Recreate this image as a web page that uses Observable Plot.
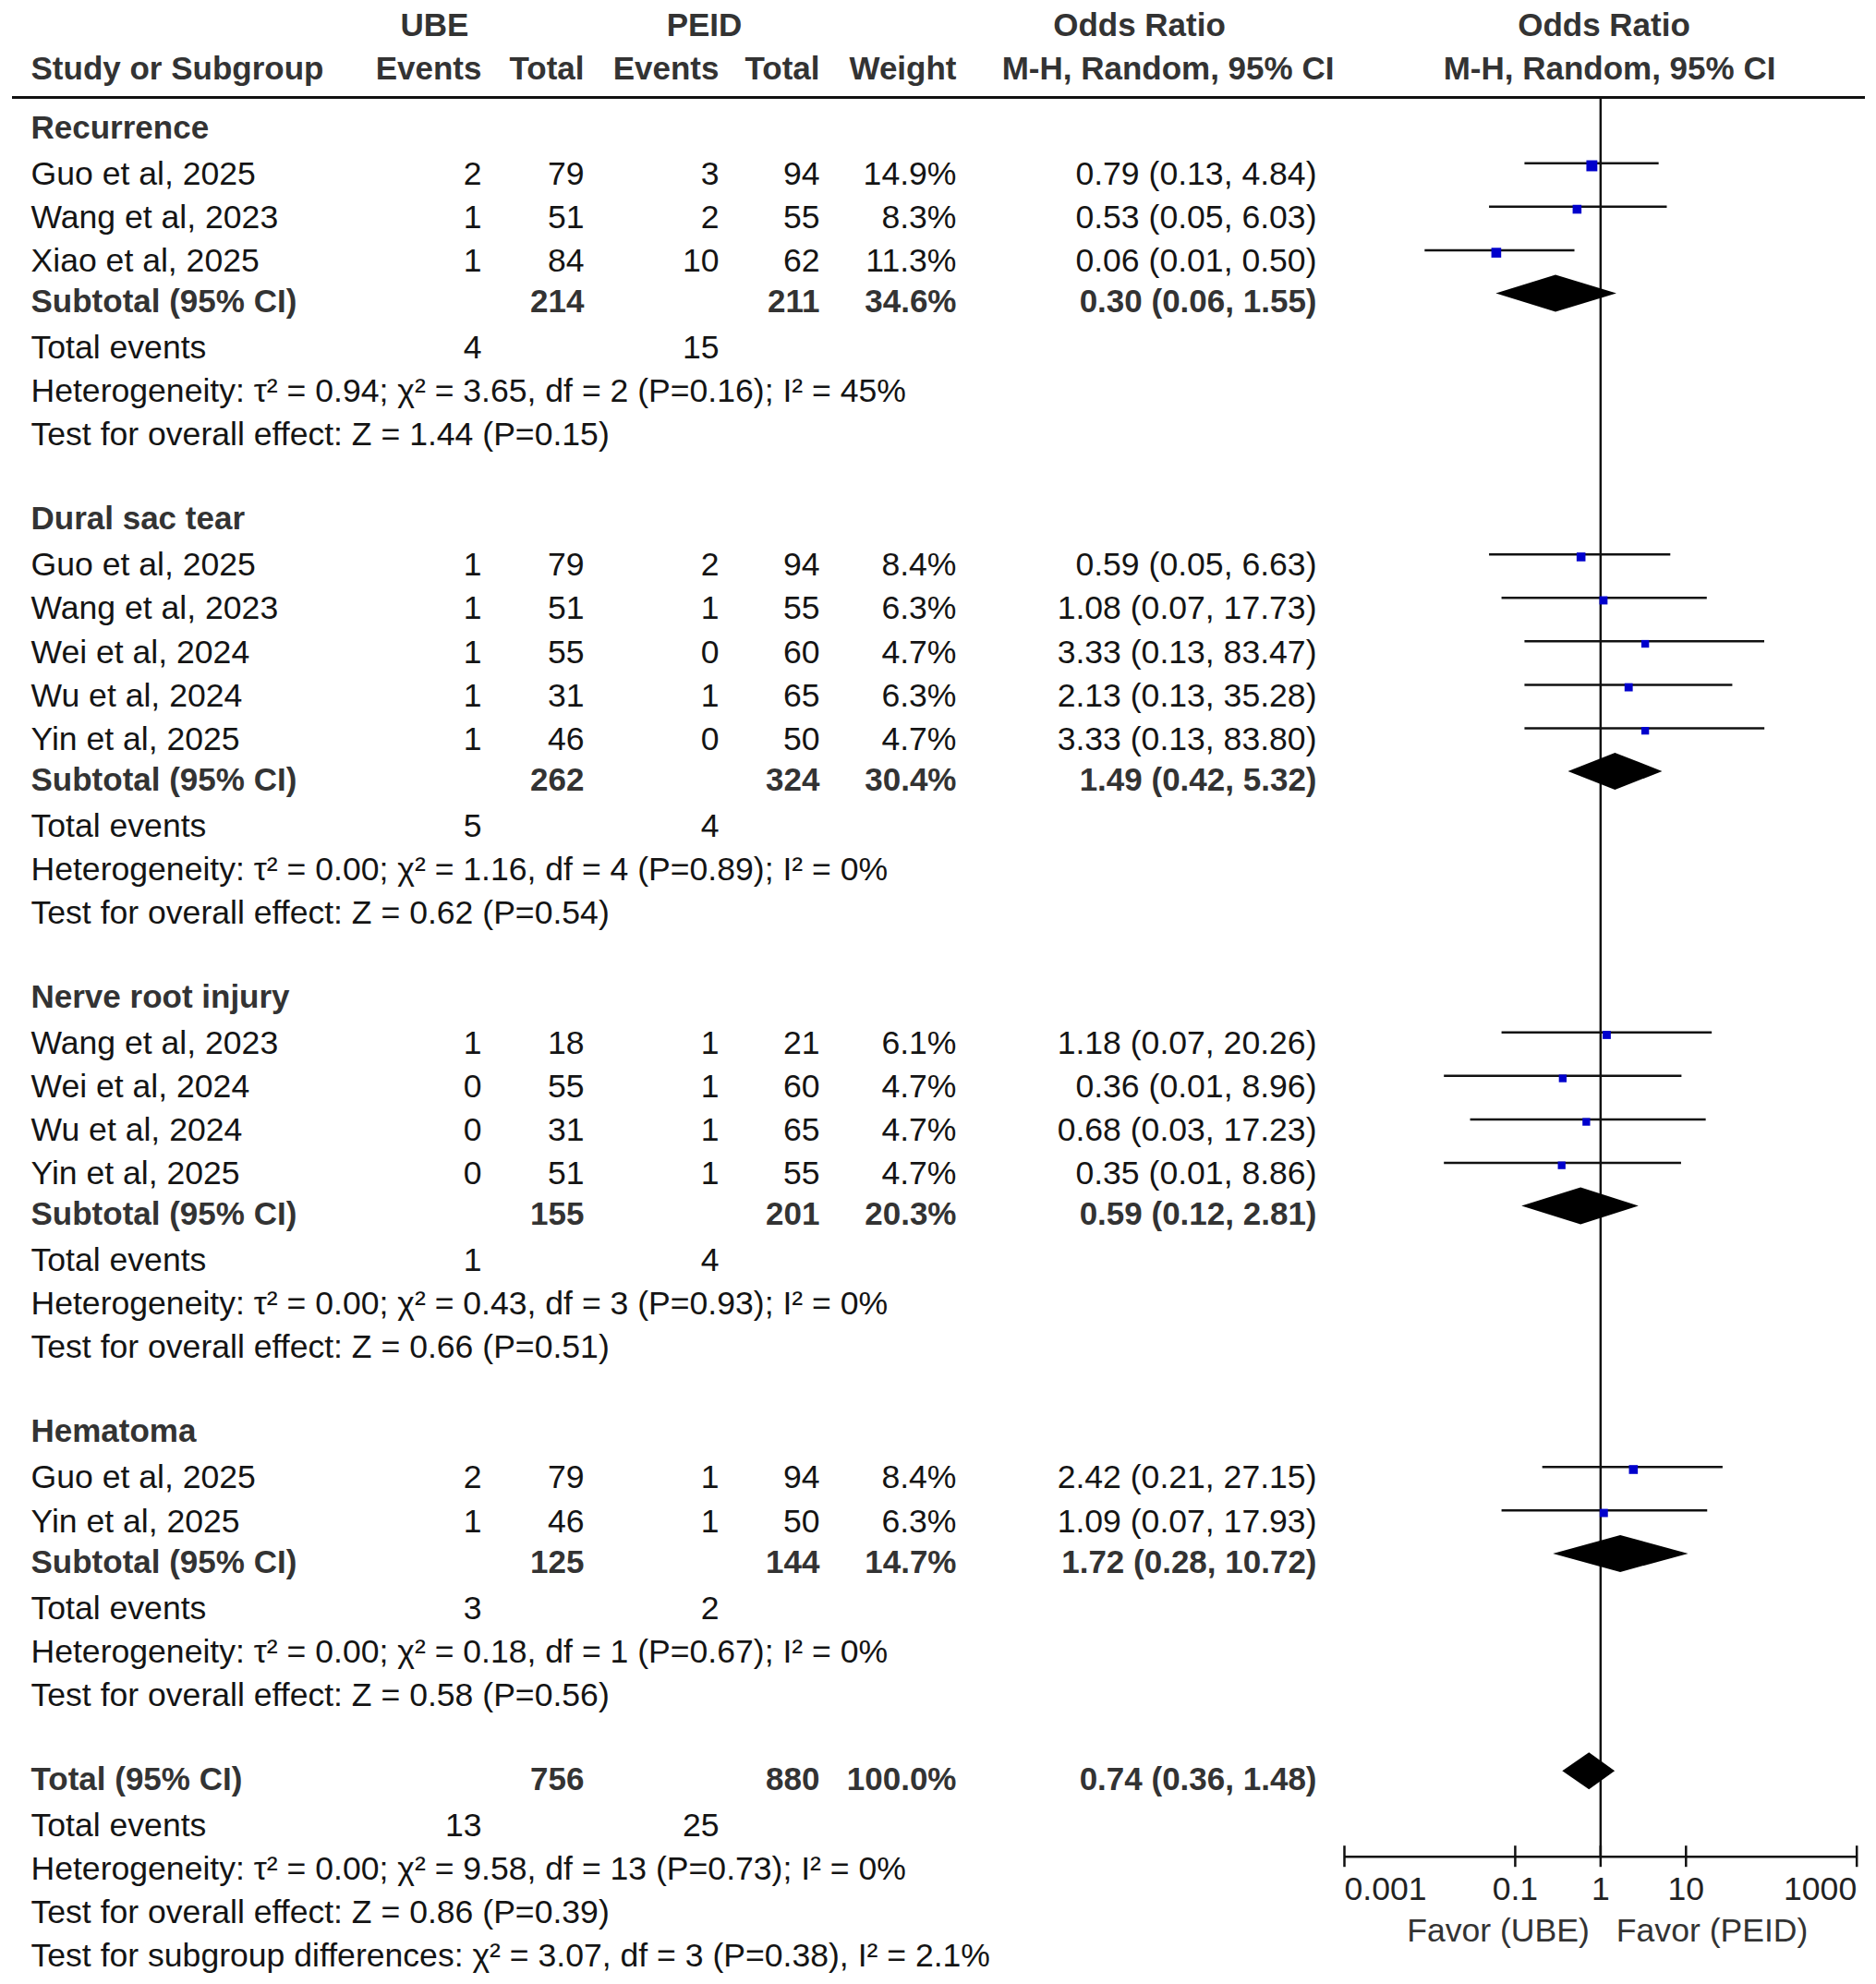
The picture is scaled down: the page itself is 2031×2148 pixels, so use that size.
<!DOCTYPE html>
<html>
<head>
<meta charset="utf-8">
<script src="https://cdn.jsdelivr.net/npm/d3@7"></script>
<script src="https://cdn.jsdelivr.net/npm/@observablehq/plot@0.6"></script>
<style>
  html, body { margin: 0; padding: 0; background: #fff; overflow: hidden; }
  #chart { position: relative; width: 2031px; height: 2148px; }
  #chart svg { position: absolute; left: 0; top: 0; }
</style>
</head>
<body>
<div id="chart"></div>
<script>
// ---------------- DATA ----------------
const groupNames = ["Recurrence", "Dural sac tear", "Nerve root injury", "Hematoma"];
const studyGroup = [0, 0, 0, 1, 1, 1, 1, 1, 2, 2, 2, 2, 3, 3];
const studyNames = ["Guo et al, 2025", "Wang et al, 2023", "Xiao et al, 2025",
  "Guo et al, 2025", "Wang et al, 2023", "Wei et al, 2024", "Wu et al, 2024", "Yin et al, 2025",
  "Wang et al, 2023", "Wei et al, 2024", "Wu et al, 2024", "Yin et al, 2025",
  "Guo et al, 2025", "Yin et al, 2025"];
const ubeEvents = [2, 1, 1, 1, 1, 1, 1, 1, 1, 0, 0, 0, 2, 1];
const ubeTotal = [79, 51, 84, 79, 51, 55, 31, 46, 18, 55, 31, 51, 79, 46];
const peidEvents = [3, 2, 10, 2, 1, 0, 1, 0, 1, 1, 1, 1, 1, 1];
const peidTotal = [94, 55, 62, 94, 55, 60, 65, 50, 21, 60, 65, 55, 94, 50];
const studyWeight = [14.9, 8.3, 11.3, 8.4, 6.3, 4.7, 6.3, 4.7, 6.1, 4.7, 4.7, 4.7, 8.4, 6.3];
const studyOR = [0.79, 0.53, 0.06, 0.59, 1.08, 3.33, 2.13, 3.33, 1.18, 0.36, 0.68, 0.35, 2.42, 1.09];
const studyLo = [0.13, 0.05, 0.0088, 0.05, 0.07, 0.13, 0.13, 0.13, 0.07, 0.0148, 0.03, 0.0148, 0.21, 0.07];
const studyHi = [4.84, 6.03, 0.50, 6.63, 17.73, 83.47, 35.28, 83.80, 20.26, 8.96, 17.23, 8.86, 27.15, 17.93];

const subUbeTotal = [214, 262, 155, 125];
const subPeidTotal = [211, 324, 201, 144];
const subWeight = [34.6, 30.4, 20.3, 14.7];
const subOR = [0.30, 1.49, 0.59, 1.72];
const subLo = [0.06, 0.42, 0.12, 0.28];
const subHi = [1.55, 5.32, 2.81, 10.72];
const subUbeEvents = [4, 5, 1, 3];
const subPeidEvents = [15, 4, 4, 2];
const subTau2 = ["0.94", "0.00", "0.00", "0.00"];
const subChi2 = ["3.65", "1.16", "0.43", "0.18"];
const subDf = [2, 4, 3, 1];
const subHetP = ["0.16", "0.89", "0.93", "0.67"];
const subI2 = ["45", "0", "0", "0"];
const subZ = ["1.44", "0.62", "0.66", "0.58"];
const subZP = ["0.15", "0.54", "0.51", "0.56"];

const totUbeTotal = 756, totPeidTotal = 880, totWeight = 100.0;
const totOR = 0.74, totLo = 0.36, totHi = 1.48;
const totUbeEvents = 13, totPeidEvents = 25;
const totTau2 = "0.00", totChi2 = "9.58", totDf = 13, totHetP = "0.73", totI2 = "0";
const totZ = "0.86", totZP = "0.39";
const sgChi2 = "3.07", sgDf = 3, sgP = "0.38", sgI2 = "2.1";

const axisTicks = [0.001, 0.1, 1, 10, 1000];
const favorLeft = "Favor (UBE)", favorRight = "Favor (PEID)";

// ---------------- LAYOUT ----------------
const W = 2031, H = 2148;
const ROW0 = 141, ROWH = 47.05;               // pixel of row 0, row height
const yDomain = [-ROW0 / ROWH, (H - ROW0) / ROWH];
const FONT = "'Liberation Sans', Arial, Helvetica, sans-serif";
const FS_REG = 35.6, FS_BOLD = 35;
const BOLD_OFF = -0.06, FOREST_OFF = -0.25;
const HEAD1 = -2.36, HEAD2 = -1.36, HEADLINE = -0.765;
const AXIS_ROW = (2009.7 - ROW0) / ROWH, TICKLAB_ROW = 40.46, FAVOR_ROW = 41.42;
const TICK_HALF = 11.5 / ROWH, DIAMOND_HALF = 20 / ROWH;
const COL = {label: 33, ubeEv: 521, ubeTot: 632, peidEv: 778, peidTot: 887, weight: 1035, orText: 1425,
             ubeHead: 470, peidHead: 762, orHead: 1233, mhHead: 1264, forHead: 1736, forMh: 1742};

const f2 = d3.format(".2f");
const fw = w => d3.format(".1f")(w) + "%";
const orText = (o, l, h) => `${f2(o)} (${f2(l)}, ${f2(h)})`;
const hetText = (t, c, df, p, i2) => `Heterogeneity: τ² = ${t}; χ² = ${c}, df = ${df} (P=${p}); I² = ${i2}%`;
const zText = (z, p) => `Test for overall effect: Z = ${z} (P=${p})`;

const cells = [];     // table text
const studyPts = [];  // forest study rows
const diamonds = [];  // forest pooled rows
const cell = (row, x, text, anchor, bold) => cells.push({row: bold ? row + BOLD_OFF : row, x, text, anchor, bold});

// headers
cell(HEAD1, COL.ubeHead, "UBE", "middle", true);
cell(HEAD1, COL.peidHead, "PEID", "middle", true);
cell(HEAD1, COL.orHead, "Odds Ratio", "middle", true);
cell(HEAD1, COL.forHead, "Odds Ratio", "middle", true);
cell(HEAD2, COL.label, "Study or Subgroup", "start", true);
cell(HEAD2, COL.ubeEv, "Events", "end", true);
cell(HEAD2, COL.ubeTot, "Total", "end", true);
cell(HEAD2, COL.peidEv, "Events", "end", true);
cell(HEAD2, COL.peidTot, "Total", "end", true);
cell(HEAD2, COL.weight, "Weight", "end", true);
cell(HEAD2, COL.mhHead, "M-H, Random, 95% CI", "middle", true);
cell(HEAD2, COL.forMh, "M-H, Random, 95% CI", "middle", true);

let r = 0;
groupNames.forEach((g, gi) => {
  cell(r, COL.label, g, "start", true); r++;
  studyNames.forEach((name, i) => {
    if (studyGroup[i] !== gi) return;
    cell(r, COL.label, name, "start", false);
    cell(r, COL.ubeEv, String(ubeEvents[i]), "end", false);
    cell(r, COL.ubeTot, String(ubeTotal[i]), "end", false);
    cell(r, COL.peidEv, String(peidEvents[i]), "end", false);
    cell(r, COL.peidTot, String(peidTotal[i]), "end", false);
    cell(r, COL.weight, fw(studyWeight[i]), "end", false);
    cell(r, COL.orText, orText(studyOR[i], studyLo[i], studyHi[i]), "end", false);
    studyPts.push({y: r + FOREST_OFF, or: studyOR[i], lo: studyLo[i], hi: studyHi[i], w: studyWeight[i]});
    r++;
  });
  cell(r, COL.label, "Subtotal (95% CI)", "start", true);
  cell(r, COL.ubeTot, String(subUbeTotal[gi]), "end", true);
  cell(r, COL.peidTot, String(subPeidTotal[gi]), "end", true);
  cell(r, COL.weight, fw(subWeight[gi]), "end", true);
  cell(r, COL.orText, orText(subOR[gi], subLo[gi], subHi[gi]), "end", true);
  diamonds.push({id: gi, y: r + FOREST_OFF, or: subOR[gi], lo: subLo[gi], hi: subHi[gi]});
  r++;
  cell(r, COL.label, "Total events", "start", false);
  cell(r, COL.ubeEv, String(subUbeEvents[gi]), "end", false);
  cell(r, COL.peidEv, String(subPeidEvents[gi]), "end", false);
  r++;
  cell(r, COL.label, hetText(subTau2[gi], subChi2[gi], subDf[gi], subHetP[gi], subI2[gi]), "start", false); r++;
  cell(r, COL.label, zText(subZ[gi], subZP[gi]), "start", false); r++;
  r++; // blank
});
cell(r, COL.label, "Total (95% CI)", "start", true);
cell(r, COL.ubeTot, String(totUbeTotal), "end", true);
cell(r, COL.peidTot, String(totPeidTotal), "end", true);
cell(r, COL.weight, fw(totWeight), "end", true);
cell(r, COL.orText, orText(totOR, totLo, totHi), "end", true);
diamonds.push({id: "total", y: r + FOREST_OFF, or: totOR, lo: totLo, hi: totHi});
r++;
cell(r, COL.label, "Total events", "start", false);
cell(r, COL.ubeEv, String(totUbeEvents), "end", false);
cell(r, COL.peidEv, String(totPeidEvents), "end", false);
r++;
cell(r, COL.label, hetText(totTau2, totChi2, totDf, totHetP, totI2), "start", false); r++;
cell(r, COL.label, zText(totZ, totZP), "start", false); r++;
cell(r, COL.label, `Test for subgroup differences: χ² = ${sgChi2}, df = ${sgDf} (P=${sgP}), I² = ${sgI2}%`, "start", false);

const diamondPts = diamonds.flatMap(d => [
  {id: d.id, x: d.lo, y1: d.y, y2: d.y},
  {id: d.id, x: d.or, y1: d.y - DIAMOND_HALF, y2: d.y + DIAMOND_HALF},
  {id: d.id, x: d.hi, y1: d.y, y2: d.y}
]);

// ---------------- TABLE ----------------
const textMark = (anchor, bold) => Plot.text(cells.filter(c => c.anchor === anchor && c.bold === bold), {
  x: "x", y: "row", text: "text", textAnchor: anchor,
  fontWeight: bold ? "bold" : "normal", fontSize: bold ? FS_BOLD : FS_REG, fill: bold ? "#333333" : "#141414"
});

const table = Plot.plot({
  width: W, height: H, marginTop: 0, marginRight: 0, marginBottom: 0, marginLeft: 0,
  x: {domain: [0, W], range: [0, W], axis: null},
  y: {domain: yDomain, range: [0, H], axis: null},
  style: {fontFamily: FONT, background: "transparent"},
  marks: [
    Plot.ruleY([HEADLINE], {x1: 13, x2: 2019, stroke: "#111", strokeWidth: 3}),
    textMark("start", false), textMark("end", false),
    textMark("start", true), textMark("end", true), textMark("middle", true)
  ]
});

// ---------------- FOREST ----------------
const forest = Plot.plot({
  width: W, height: H, marginTop: 0, marginRight: 0, marginBottom: 0, marginLeft: 0,
  x: {type: "log", domain: [0.001, 1000], range: [1455, 2009.7], axis: null},
  y: {domain: yDomain, range: [0, H], axis: null},
  r: {type: "linear", domain: [0, 14.9], range: [3.746, 6.714]},
  style: {fontFamily: FONT, background: "transparent"},
  marks: [
    Plot.ruleX([1], {y1: HEADLINE, y2: AXIS_ROW, stroke: "#111", strokeWidth: 2.5}),
    Plot.ruleY(studyPts, {y: "y", x1: "lo", x2: "hi", stroke: "#111", strokeWidth: 2.5}),
    Plot.dot(studyPts, {x: "or", y: "y", r: "w", symbol: "square", fill: "#0000cc", stroke: null, dy: 2.7}),
    Plot.areaY(diamondPts, {x: "x", y1: "y1", y2: "y2", z: "id", fill: "#000", curve: "linear"}),
    // axis
    Plot.ruleY([AXIS_ROW], {x1: axisTicks[0], x2: axisTicks[axisTicks.length - 1], stroke: "#111", strokeWidth: 2.5}),
    Plot.ruleX(axisTicks, {x: d => d, y1: AXIS_ROW - TICK_HALF, y2: AXIS_ROW + TICK_HALF, stroke: "#111", strokeWidth: 2.5}),
    Plot.text(axisTicks.slice(0, 1), {x: d => d, y: TICKLAB_ROW, text: d => String(d), textAnchor: "start", fontSize: FS_REG, fill: "#222"}),
    Plot.text(axisTicks.slice(1, -1), {x: d => d, y: TICKLAB_ROW, text: d => String(d), textAnchor: "middle", fontSize: FS_REG, fill: "#222"}),
    Plot.text(axisTicks.slice(-1), {x: d => d, y: TICKLAB_ROW, text: d => String(d), textAnchor: "end", fontSize: FS_REG, fill: "#222"}),
    Plot.text([favorLeft], {x: 1, y: FAVOR_ROW, text: d => d, textAnchor: "end", dx: -12, fontSize: FS_REG, fill: "#333"}),
    Plot.text([favorRight], {x: 1, y: FAVOR_ROW, text: d => d, textAnchor: "start", dx: 17, fontSize: FS_REG, fill: "#333"})
  ]
});

const root = document.getElementById("chart");
root.appendChild(table);
root.appendChild(forest);
</script>
</body>
</html>
